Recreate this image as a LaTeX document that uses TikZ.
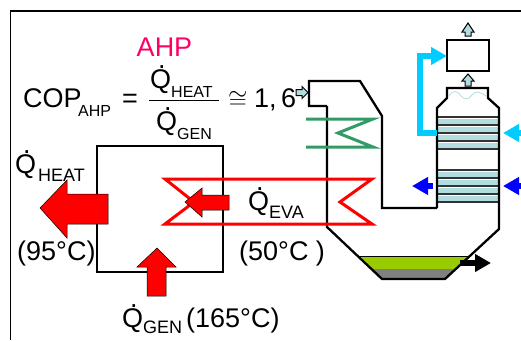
\documentclass[tikz,border=0pt]{standalone}
\usepackage{fontspec}
\setmainfont{Liberation Sans}
\usepackage{xcolor}
\usetikzlibrary{calc,arrows.meta}
\definecolor{ahppink}{HTML}{FF0066}
\definecolor{coilred}{HTML}{FF0000}
\definecolor{coilgreen}{HTML}{339966}
\definecolor{sky}{HTML}{00CCFF}
\definecolor{deepblue}{HTML}{0000FF}
\definecolor{pale}{HTML}{B2DDE0}
\definecolor{gypsum}{HTML}{99CC00}
\definecolor{sludge}{HTML}{808080}
\newcommand{\fs}[1]{\fontsize{#1}{#1}\selectfont}
\newcommand{\qd}{\makebox[0pt][l]{\hspace{.29em}\raisebox{.72em}{.}}Q}
\tikzset{
  wall/.style={draw=black, line width=2.3pt, line join=miter},
  frameline/.style={draw=black, line width=1.2pt},
  coil/.style={line width=3pt, line join=miter},
  heatarrow/.style={draw=black, line width=0.5pt, fill=coilred},
  gasarrow/.style={draw=black, line width=1pt, fill=pale},
  flow/.style={line width=5.5pt, -{Triangle[length=16pt,width=17pt]}},
  lab/.style={inner sep=0pt, anchor=base west, font=\fs{27}},
  sub/.style={inner sep=0pt, anchor=base west, font=\fs{16}},
  subb/.style={inner sep=0pt, anchor=base west, font=\fs{18}},
}
\begin{document}
\begin{tikzpicture}[x=1pt,y=-1pt]
  \useasboundingbox (0,0) rectangle (521,340);
  % frame
  \draw[pale,line width=0.8pt] (20,10) -- (521,10);
  \draw[frameline] (521,11) -- (10.5,11) -- (10.5,340);
  % heat pump
  \draw[wall] (97,146) rectangle (223,272);
  % flue and tower
  \fill[gypsum] (358,256) -- (468,256) -- (455,269) -- (371,269) -- cycle;
  \fill[sludge] (371,269) -- (455,269) -- (445,279) -- (382,279) -- cycle;
  \draw[black,line width=1pt] (358,256) -- (468,256);
  \foreach \top in {117,170}{
    \foreach \i in {0,1,2,3}{
      \fill[pale] (437,\top+2+\i*8) rectangle (499,\top+6.5+\i*8);
      \draw[black!80,line width=1.8pt] (437,\top+\i*8) -- (499,\top+\i*8);
    }
    \draw[black!80,line width=1.8pt] (437,\top+32) -- (499,\top+32);
  }
  \draw[wall] (327,106) -- (309,106) -- (309,81) -- (360,81) -- (382,116)
    -- (382,208) -- (437,208);
  \draw[wall] (327,106) -- (327,227) -- (382,279) -- (445,279) -- (499,229)
    -- (499,108) -- (488,98) -- (488,88) -- (447,88) -- (447,98) -- (437,108)
    -- (437,208);
  \draw[pale,line width=0.8pt] (449,96) .. controls (453,90) and (457,90) .. (461,96)
    .. controls (465,100) and (468,100) .. (472,95) .. controls (476,90) and (480,92) .. (486,96);
  \draw[wall] (447,40) rectangle (489,71);
  % gas arrows
  \draw[gasarrow] (468,23) -- (474,32) -- (471,32) -- (471,36) -- (465,36) -- (465,32) -- (462,32) -- cycle;
  \draw[gasarrow] (468,74) -- (474,81) -- (471,81) -- (471,86) -- (465,86) -- (465,81) -- (462,81) -- cycle;
  \draw[gasarrow] (308,92.5) -- (302,86.5) -- (302,89.5) -- (296,89.5) -- (296,95.5) -- (302,95.5) -- (302,98.5) -- cycle;
  % flows
  \draw[sky,flow] (437,133) -- (420,133) -- (420,56) -- (447,56);
  \draw[sky,flow] (521,133) -- (503,133);
  \draw[deepblue,flow] (433,186) -- (412,186);
  \draw[deepblue,flow] (521,186) -- (503,186);
  \draw[black,flow] (460,263) -- (491,263);
  % coils
  \draw[coilgreen,coil] (306,119) -- (373,119) -- (338,133) -- (373,147) -- (306,147);
  \draw[coilred,coil] (372,179) -- (165,179) -- (194,202) -- (165,224) -- (372,224) -- (340,202) -- cycle;
  % heat arrows
  \draw[heatarrow] (40,208) -- (67,180) -- (67,194) -- (108,194) -- (108,224) -- (67,224) -- (67,238) -- cycle;
  \draw[heatarrow] (185,202) -- (202,188) -- (202,195) -- (229,195) -- (229,210) -- (202,210) -- (202,217) -- cycle;
  \draw[heatarrow] (157,248) -- (176,267) -- (166,267) -- (166,296) -- (147,296) -- (147,267) -- (137,267) -- cycle;
  % texts
  \node[inner sep=0pt,font=\fs{27},text=ahppink] (title) at (164.5,47) {AHP};
  \node[lab] (cop) at (23,107) {COP};
  \node[sub] (copsub) at (78,116) {AHP};
  \node[lab] (eq) at (122,107) {=};
  \node[lab] (qtop) at (150,88) {\qd};
  \node[sub] (qtopsub) at (171,97) {HEAT};
  \draw[black,line width=1pt] (149,100) -- (219,100);
  \node[lab] (qbot) at (156,130) {\qd};
  \node[sub] (qbotsub) at (177,139) {GEN};
  \node[lab,font=\fs{24}] (approx) at (228,108) {$\cong$};
  \node[lab] (copvalue) at (254,107) {1,\,6};
  \node[lab] (qheat) at (15,173) {\qd};
  \node[subb] (qheatsub) at (38,181) {HEAT};
  \node[lab] (thot) at (17,260) {(95°C)};
  \node[lab] (qeva) at (248,210) {\qd};
  \node[subb] (qevasub) at (269,218) {EVA};
  \node[lab] (tlow) at (239,260) {(50°C )};
  \node[lab] (qgen) at (122,327) {\qd};
  \node[subb] (qgensub) at (143,333) {GEN};
  \node[lab] (tgen) at (186,327) {(165°C)};
\end{tikzpicture}
\end{document}
